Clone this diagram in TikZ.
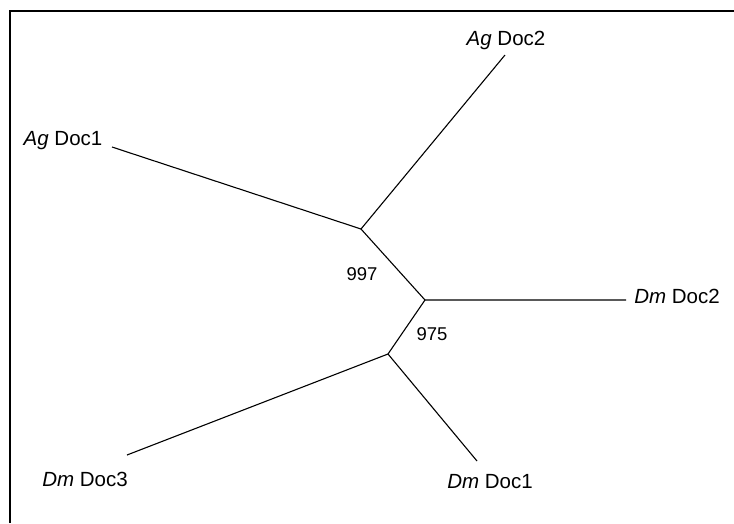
\documentclass[tikz,border=0pt]{standalone}
\usepackage{fontspec}
\setmainfont{Liberation Sans}
\begin{document}
\begin{tikzpicture}[x=1pt,y=-1pt,
  branch/.style={line width=1.1pt,black},
  frame/.style={line width=2.5pt,black},
  leaf/.style={inner sep=0pt,font=\fontsize{20.5}{23}\selectfont},
  boot/.style={inner sep=0pt,font=\fontsize{18.5}{21}\selectfont}]
\useasboundingbox (0,0) rectangle (734,523);
\draw[frame] (10,523) -- (10,11) -- (734,11);
% junctions
\coordinate (j1) at (361,229);
\coordinate (j2) at (425,300);
\coordinate (j3) at (388,354);
% branch tips
\coordinate (t1) at (112,147);
\coordinate (t2) at (505,55);
\coordinate (t3) at (626,300);
\coordinate (t4) at (127,455);
\coordinate (t5) at (477,461);
\draw[branch] (t1) -- (j1) -- (t2);
\draw[branch] (j1) -- (j2) -- (t3);
\draw[branch] (j2) -- (j3) -- (t4);
\draw[branch] (j3) -- (t5);
% labels
\node[leaf] (l1) at (63,141) {\textit{Ag} Doc1};
\node[leaf] (l2) at (506,40) {\textit{Ag} Doc2};
\node[leaf] (l3) at (677,296) {\textit{Dm} Doc2};
\node[leaf] (l4) at (85,479) {\textit{Dm} Doc3};
\node[leaf] (l5) at (490,482) {\textit{Dm} Doc1};
\node[boot] (b1) at (362,274) {997};
\node[boot] (b2) at (432,334) {975};
\end{tikzpicture}
\end{document}
